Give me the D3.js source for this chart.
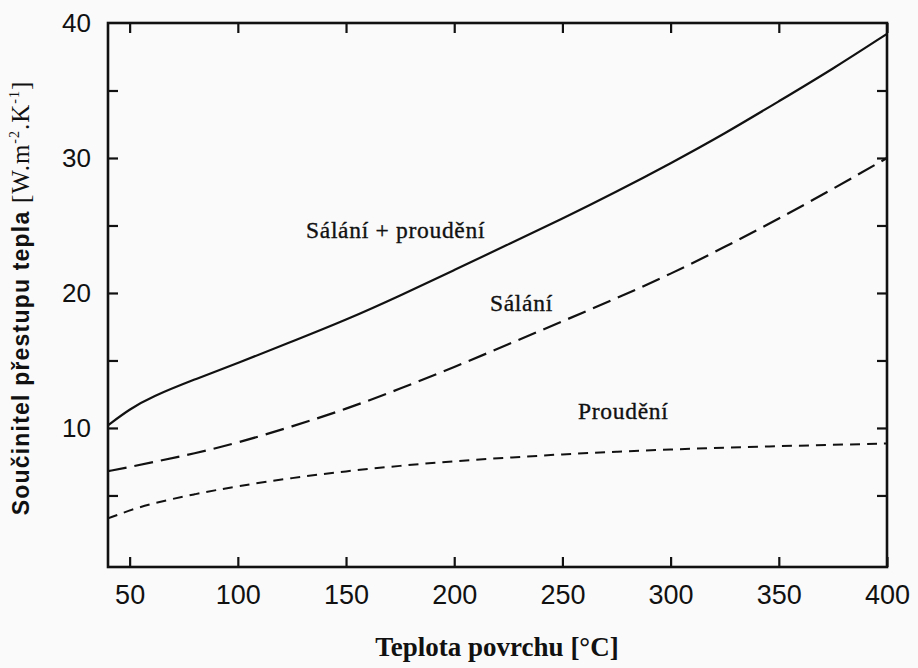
<!DOCTYPE html>
<html>
<head>
<meta charset="utf-8">
<script src="https://cdn.jsdelivr.net/npm/d3@7"></script>
<style>
  html, body { margin: 0; padding: 0; background: #fafafa; }
  svg { display: block; }
</style>
</head>
<body>
<svg id="chart" width="918" height="668"></svg>
<script>
// Surface temperature [°C]
const temperature = [40, 50, 60, 80, 100, 125, 150, 175, 200, 225, 250, 275, 300, 325, 350, 375, 400];
// Radiation + convection
const total =      [10.2, 11.4, 12.3, 13.6, 14.8, 16.4, 18.0, 19.8, 21.7, 23.6, 25.5, 27.5, 29.6, 31.8, 34.2, 36.6, 39.2];
// Radiation
const radiation =  [6.8, 7.1, 7.45, 8.1, 8.9, 10.1, 11.4, 12.9, 14.5, 16.2, 17.9, 19.6, 21.4, 23.4, 25.5, 27.7, 30.0];
// Convection
const convection = [3.3, 3.9, 4.4, 5.1, 5.7, 6.3, 6.8, 7.2, 7.55, 7.8, 8.05, 8.25, 8.4, 8.55, 8.65, 8.75, 8.85];

const xTicks = [50, 100, 150, 200, 250, 300, 350, 400];
const yMajorTicks = [10, 20, 30, 40];
const yAllTicks = [5, 10, 15, 20, 25, 30, 35];

const svg = d3.select("#chart");
const plot = { left: 108, right: 887, top: 23, bottom: 567 };

const x = d3.scaleLinear().domain([40, 400]).range([plot.left, plot.right]);
const y = d3.scaleLinear().domain([-0.3, 40]).range([plot.bottom, plot.top]);

const tickLen = 10;
const sans = "Liberation Sans, Arial, sans-serif";
const serif = "Liberation Serif, Times New Roman, serif";

// Bottom axis with labels, ticks pointing inward
const gx = svg.append("g").attr("transform", `translate(0,${plot.bottom})`)
  .call(d3.axisBottom(x).tickValues(xTicks).tickSize(-tickLen).tickPadding(18).tickFormat(d3.format("d")));
// Top axis, ticks only
const gxt = svg.append("g").attr("transform", `translate(0,${plot.top})`)
  .call(d3.axisTop(x).tickValues(xTicks).tickSize(-tickLen).tickFormat(""));
// Left axis: unlabeled ticks every 5 + labeled majors
const gyl = svg.append("g").attr("transform", `translate(${plot.left},0)`)
  .call(d3.axisLeft(y).tickValues(yAllTicks).tickSize(-tickLen).tickFormat(""));
const gylab = svg.append("g").attr("transform", `translate(${plot.left},0)`)
  .call(d3.axisLeft(y).tickValues(yMajorTicks).tickSize(0).tickPadding(17).tickFormat(d3.format("d")));
// Right axis, ticks only
const gyr = svg.append("g").attr("transform", `translate(${plot.right},0)`)
  .call(d3.axisRight(y).tickValues(yAllTicks).tickSize(-tickLen).tickFormat(""));

[gx, gxt, gyl, gylab, gyr].forEach(g => {
  g.select(".domain").remove();
  g.selectAll(".tick line").attr("stroke", "#111").attr("stroke-width", 2.2);
  g.selectAll(".tick text").attr("fill", "#111").style("font-family", sans);
});
gx.selectAll(".tick text").style("font-size", "27px");
gylab.selectAll(".tick text").style("font-size", "26px");

// Frame
svg.append("rect")
  .attr("x", plot.left).attr("y", plot.top)
  .attr("width", plot.right - plot.left).attr("height", plot.bottom - plot.top)
  .attr("fill", "none").attr("stroke", "#111").attr("stroke-width", 2.6);

const line = d3.line()
  .x((d, i) => x(temperature[i]))
  .y(d => y(d))
  .curve(d3.curveBasis);

svg.append("path").datum(total)
  .attr("d", line).attr("fill", "none").attr("stroke", "#111").attr("stroke-width", 2.2);
svg.append("path").datum(radiation)
  .attr("d", line).attr("fill", "none").attr("stroke", "#111").attr("stroke-width", 2.2)
  .attr("stroke-dasharray", "19,8");
svg.append("path").datum(convection)
  .attr("d", line).attr("fill", "none").attr("stroke", "#111").attr("stroke-width", 2)
  .attr("stroke-dasharray", "10,7");

// Curve annotations
const notes = [
  { t: "Sálání + proudění", tx: 131.5, v: 24.1 },
  { t: "Sálání",            tx: 216.5, v: 18.7 },
  { t: "Proudění",          tx: 257.2, v: 10.7 }
];
svg.selectAll("text.note").data(notes).join("text")
  .attr("class", "note")
  .attr("x", d => x(d.tx)).attr("y", d => y(d.v))
  .attr("fill", "#111")
  .attr("stroke", "#111")
  .attr("stroke-width", 0.35)
  .style("font-family", serif)
  .style("font-size", "23.5px")
  .style("letter-spacing", "0.7px")
  .text(d => d.t);

// X axis title
svg.append("text")
  .attr("x", 497).attr("y", 656)
  .attr("text-anchor", "middle")
  .attr("fill", "#111")
  .style("font-family", serif)
  .style("font-size", "27px")
  .style("font-weight", "bold")
  .text("Teplota povrchu [°C]");

// Y axis title with superscript exponents
const yt = svg.append("text")
  .attr("transform", `translate(29,298) rotate(-90)`)
  .attr("text-anchor", "middle")
  .attr("fill", "#111");
yt.append("tspan")
  .style("font-family", sans)
  .style("font-weight", "bold")
  .style("font-size", "23px")
  .style("letter-spacing", "1.2px")
  .text("Součinitel přestupu tepla ");
const unit = (t, dy, small) => yt.append("tspan")
  .style("font-family", serif)
  .style("font-size", small ? "14px" : "25px")
  .style("letter-spacing", "1px")
  .attr("dy", dy)
  .text(t);
unit("[W.m", 0, false);
unit("-2", -10, true);
unit(".K", 10, false);
unit("-1", -10, true);
unit("]", 10, false);
</script>
</body>
</html>
